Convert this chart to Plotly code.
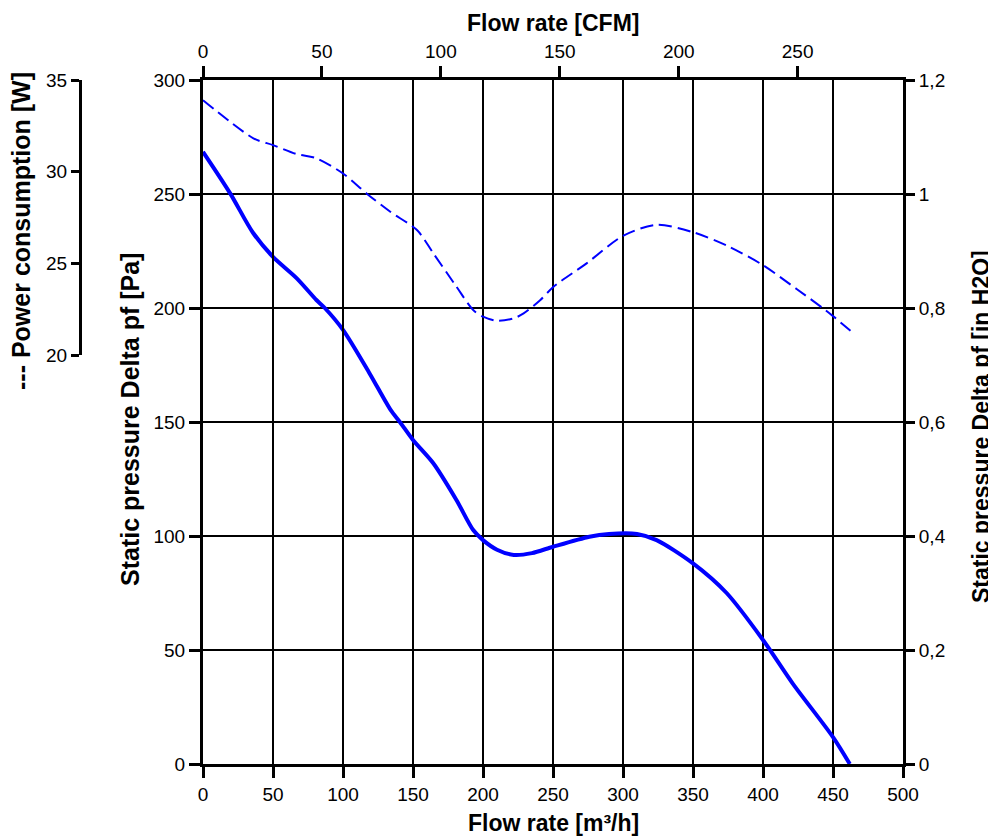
import plotly.graph_objects as go

# ---- data ----
flow_pressure = [0, 19.3, 35.7, 50, 67, 81, 87, 100, 119, 134, 141, 150, 164.5, 181, 193, 200,
                 210, 222, 235, 250, 276, 290, 310, 324, 350, 374, 400, 421, 450, 462]
pressure_pa = [268.5, 250.4, 233, 222.4, 213, 203.5, 200, 190.4, 171.3, 155.3, 149.7, 142.1, 131.9,
               115.8, 102.6, 98.2, 94, 91.7, 92.5, 95.3, 99.7, 100.9, 100.9, 98.2, 88, 75, 54.4,
               35.5, 11.8, 0]

flow_power = [0, 36, 50, 67, 81, 100, 117, 134, 153, 164.5, 181, 193, 200, 210, 222, 229, 241,
              250, 274, 300, 324, 350, 376, 400, 424, 443, 450, 463.6]
power_w = [33.9, 31.82, 31.45, 30.96, 30.73, 29.9, 28.8, 27.8, 26.8, 25.55, 23.73, 22.45, 22.09,
           21.87, 22.0, 22.27, 23.0, 23.7, 25.0, 26.5, 27.1, 26.7, 25.9, 24.9, 23.6, 22.54, 22.12,
           21.25]

x_ticks = [0, 50, 100, 150, 200, 250, 300, 350, 400, 450, 500]
cfm_ticks = [0, 50, 100, 150, 200, 250]
pa_ticks = [0, 50, 100, 150, 200, 250, 300]
inh2o_ticks = [0, 0.2, 0.4, 0.6, 0.8, 1.0, 1.2]
power_ticks = [20, 25, 30, 35]

M3H_PER_CFM = 1.699
PA_PER_INH2O = 250.0
X_MAX = 500
PA_MAX = 300
INH2O_MAX = 1.2

# page body has an 8px margin; lay the figure out in window pixels minus that offset
OFF = 8
W, H = 996 - OFF, 836 - OFF
PL, PR, PT, PB = 203 - OFF, 903 - OFF, 80 - OFF, 764 - OFF  # plot area in figure pixels

FONT = "Liberation Sans, Arial, sans-serif"
BLUE = "#0000ff"

fig = go.Figure()
fig.add_trace(go.Scatter(x=flow_pressure, y=pressure_pa, mode="lines",
                         line=dict(color=BLUE, width=4, shape="spline", smoothing=0.8),
                         xaxis="x", yaxis="y", showlegend=False, hoverinfo="skip"))
fig.add_trace(go.Scatter(x=flow_power, y=power_w, mode="lines",
                         line=dict(color=BLUE, width=2, shape="spline", smoothing=0.8, dash="13px,6px"),
                         xaxis="x", yaxis="y3", showlegend=False, hoverinfo="skip"))
# invisible companions so the secondary unit axes (CFM, in H2O) are drawn
fig.add_trace(go.Scatter(x=[v / M3H_PER_CFM for v in flow_pressure], y=pressure_pa, mode="lines",
                         line=dict(width=0, color="rgba(0,0,0,0)"), xaxis="x2", yaxis="y",
                         showlegend=False, hoverinfo="skip"))
fig.add_trace(go.Scatter(x=flow_pressure, y=[v / PA_PER_INH2O for v in pressure_pa], mode="lines",
                         line=dict(width=0, color="rgba(0,0,0,0)"), xaxis="x", yaxis="y2",
                         showlegend=False, hoverinfo="skip"))


def px_x(p):
    return (p - OFF) / W


def px_y(p):
    return (PB - (p - OFF)) / (PB - PT)


tickfont = dict(family=FONT, size=19, color="black")
common = dict(showline=True, linecolor="black", linewidth=3, ticks="outside",
              tickcolor="black", tickwidth=2.5, ticklen=11, tickfont=tickfont,
              zeroline=False, automargin=False, fixedrange=True)

fig.update_layout(
    width=W, height=H,
    margin=dict(l=0, r=0, t=PT, b=H - PB),
    paper_bgcolor="white", plot_bgcolor="rgba(0,0,0,0)",
    separators=",.",
    xaxis=dict(domain=[PL / W, PR / W], range=[0, X_MAX], tickvals=x_ticks,
               showgrid=True, gridcolor="black", gridwidth=1.8, anchor="y", **common),
    xaxis2=dict(overlaying="x", side="top", anchor="y", range=[0, X_MAX / M3H_PER_CFM],
                tickvals=cfm_ticks, showgrid=False, **common),
    yaxis=dict(domain=[0, 1], range=[0, PA_MAX], tickvals=pa_ticks, anchor="x",
               showgrid=True, gridcolor="black", gridwidth=1.8, **common),
    yaxis2=dict(overlaying="y", side="right", anchor="x", range=[0, INH2O_MAX],
                tickvals=inh2o_ticks, showgrid=False, **{**common, "ticklen": 9}),
    yaxis3=dict(domain=[px_y(355), 1], range=[20, 35], tickvals=power_ticks,
                anchor="free", position=(80 - OFF) / W, side="left", showgrid=False,
                **{**common, "ticklen": 8}),
)

title_font_h = dict(family=FONT, size=23, color="black")
title_font_v = dict(family=FONT, size=25, color="black")
title_font_r = dict(family=FONT, size=23, color="black")
fig.add_annotation(text="<b>Flow rate [CFM]</b>", xref="paper", yref="paper",
                   x=px_x(553), y=px_y(23), showarrow=False, font=title_font_h,
                   xanchor="center", yanchor="middle")
fig.add_annotation(text="<b>Flow rate [m³/h]</b>", xref="paper", yref="paper",
                   x=px_x(553), y=px_y(823), showarrow=False, font=title_font_h,
                   xanchor="center", yanchor="middle")
fig.add_annotation(text="<b>Static pressure Delta pf [Pa]</b>", xref="paper", yref="paper",
                   x=px_x(130), y=px_y(420), showarrow=False, font=title_font_v,
                   textangle=-90, xanchor="center", yanchor="middle")
fig.add_annotation(text="<b>Static pressure Delta pf [in H2O]</b>", xref="paper", yref="paper",
                   x=px_x(981), y=px_y(427), showarrow=False, font=title_font_r,
                   textangle=-90, xanchor="center", yanchor="middle")
fig.add_annotation(text="<b>--- Power consumption [W]</b>", xref="paper", yref="paper",
                   x=px_x(21), y=px_y(231), showarrow=False, font=title_font_v,
                   textangle=-90, xanchor="center", yanchor="middle")

fig.write_html("out.html")
